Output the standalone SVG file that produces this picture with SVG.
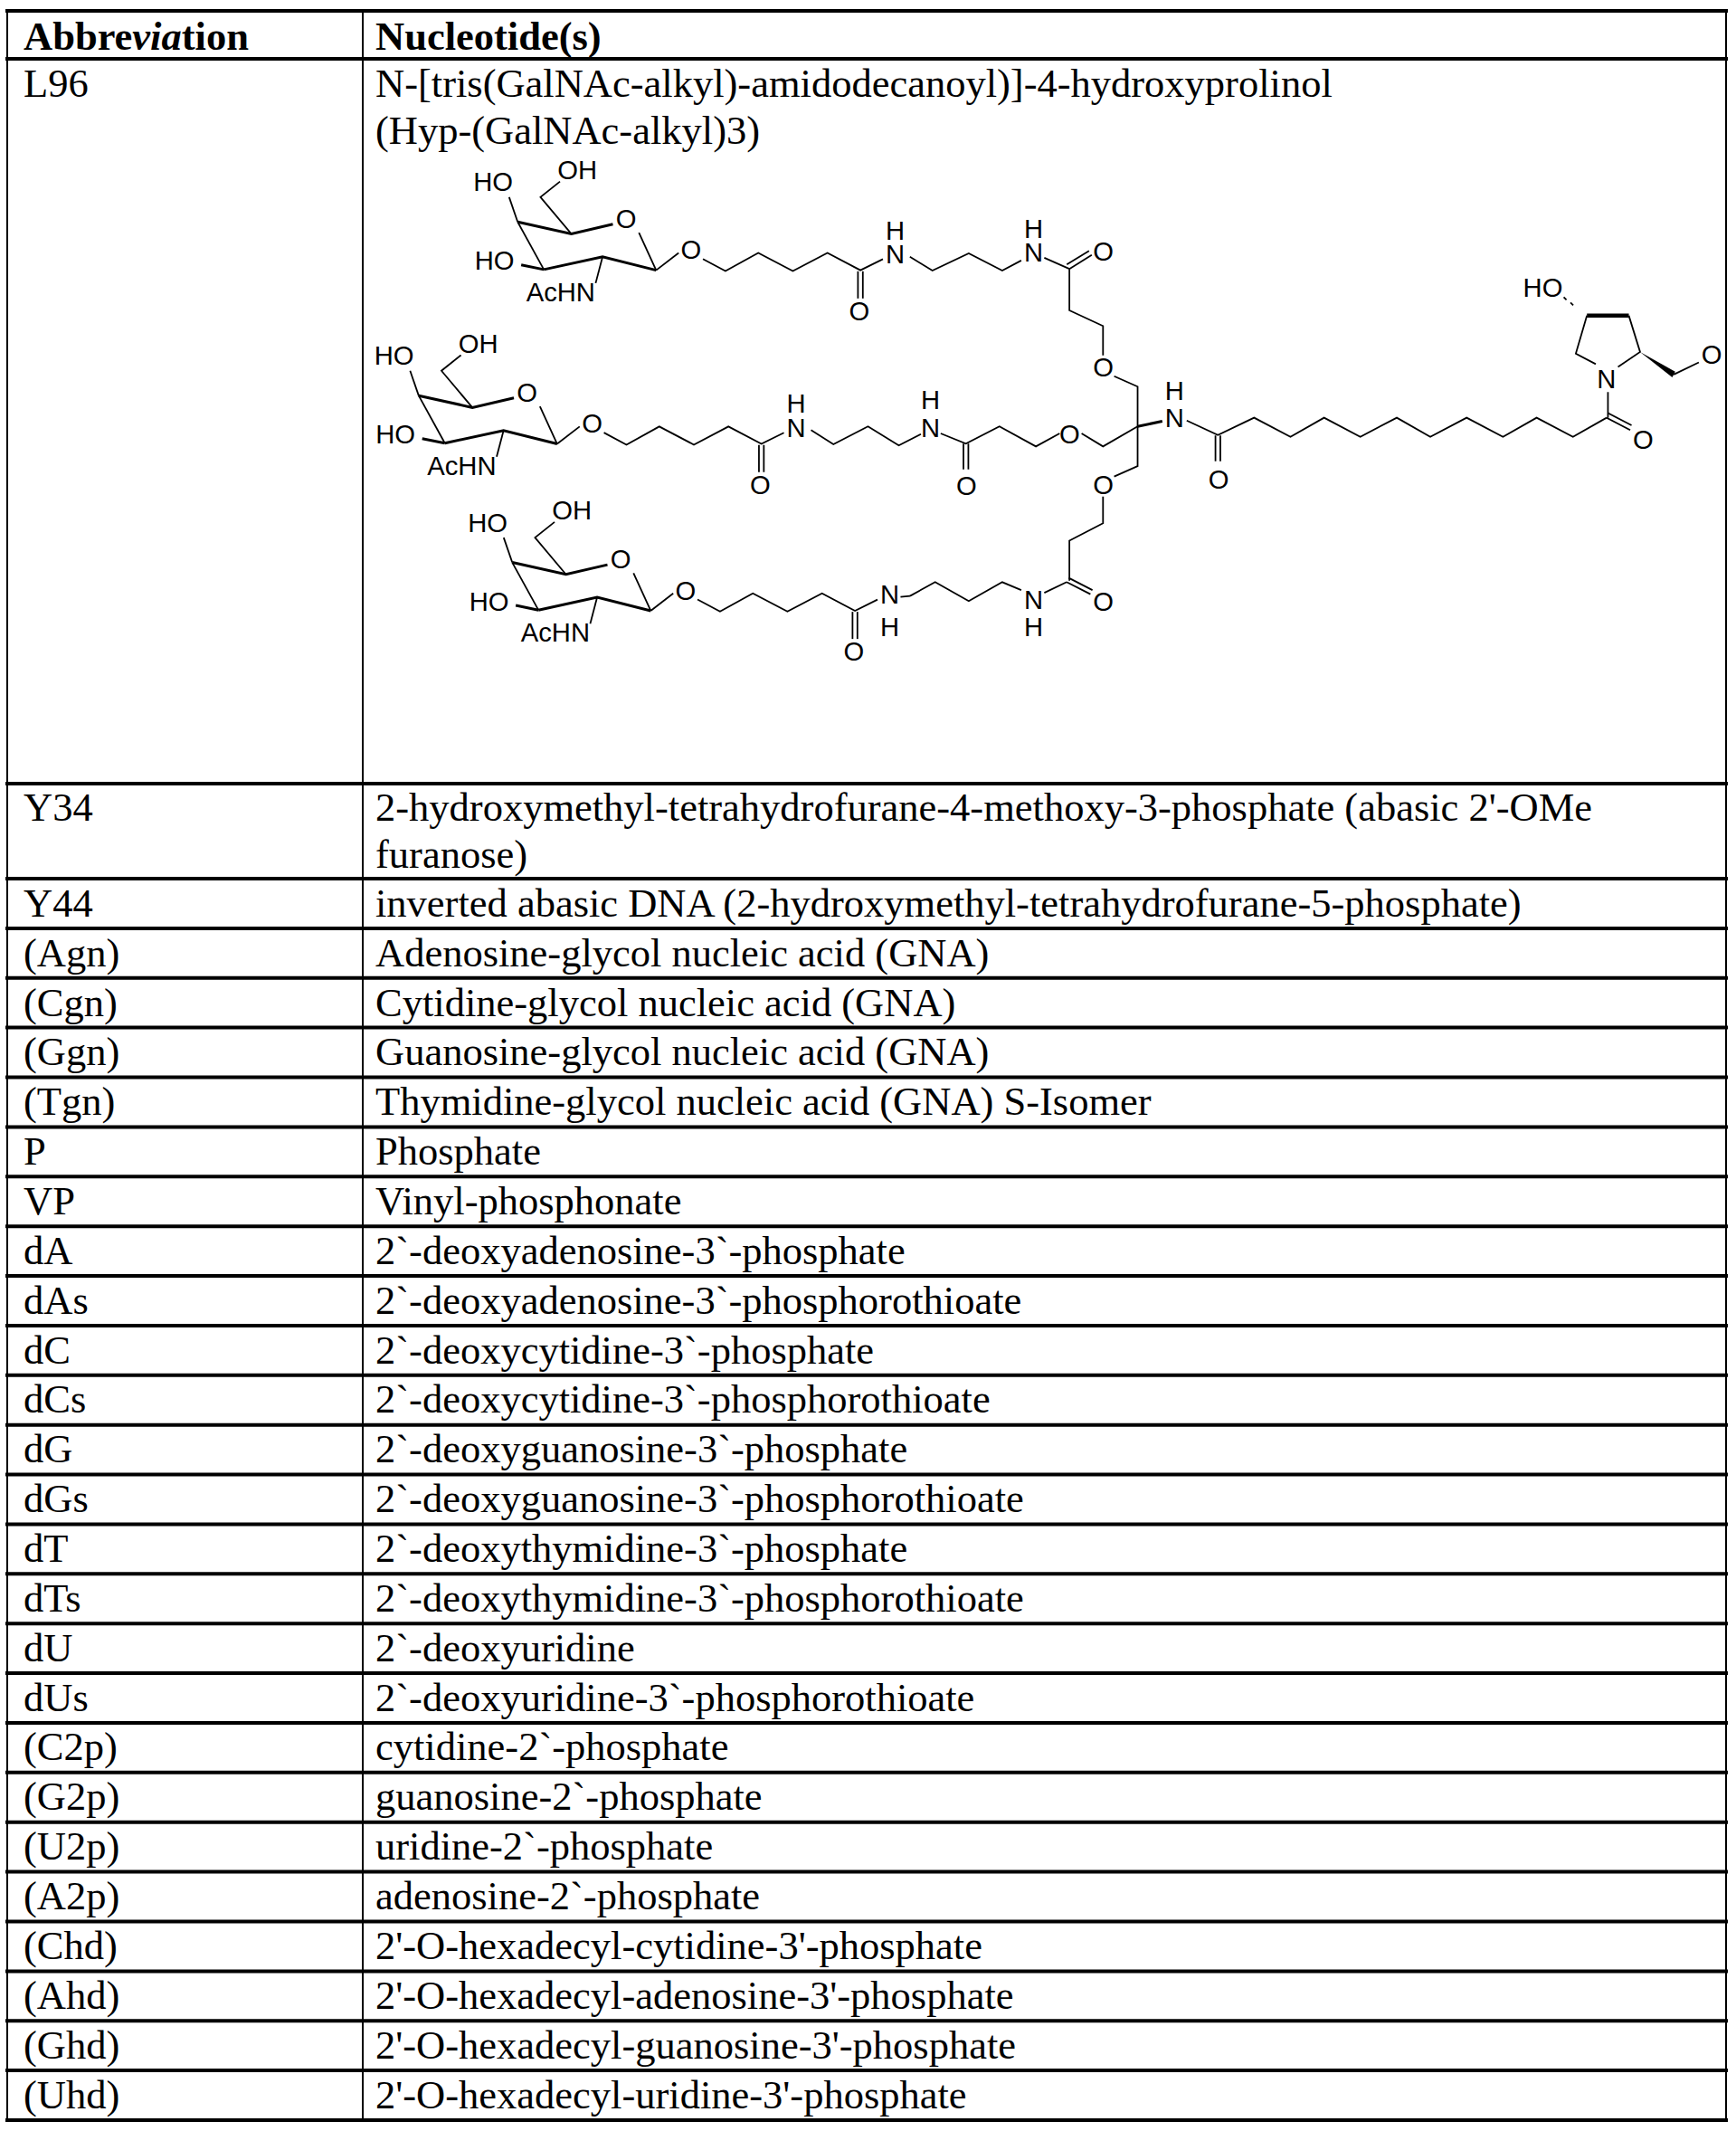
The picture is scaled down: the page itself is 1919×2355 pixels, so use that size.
<svg xmlns="http://www.w3.org/2000/svg" xmlns:xlink="http://www.w3.org/1999/xlink" width="1919" height="2355" viewBox="0 0 1919 2355">
<style>
.t{font-family:"Liberation Serif","Times New Roman",serif;font-size:44.5px;fill:#000}
.b{font-weight:bold}
.g{stroke:#000;stroke-width:4;fill:none}
.v{stroke:#000;stroke-width:2;fill:none}
.c{stroke:#000;stroke-width:1.2;fill:none;stroke-linejoin:miter}
.cb{stroke:#000;stroke-width:2;fill:none}
.a{font-family:"Liberation Sans",Arial,sans-serif;font-size:19.5px;fill:#000}
</style>
<defs>
<g id="unit">
<polyline class="c" points="302.4,273.3 308.7,291.6"/>
<polyline class="cb" points="308.7,291.6 348.3,300.4 378.9,293.3"/>
<polyline class="c" points="348.3,300.4 325.5,273.3 339.9,261.8"/>
<polyline class="c" points="398.1,299.5 410.8,327.2"/>
<polyline class="cb" points="410.8,327.2 371.3,317.3 328,326.7"/>
<polyline class="c" points="328,326.7 308.7,291.6"/>
<polyline class="cb" points="311.3,323.3 328,326.7"/>
<polyline class="c" points="371.3,317.3 366.2,336.7"/>
<polyline class="c" points="410.8,327.2 427.4,314.4"/>
<polyline class="c" points="445.3,318.9 461.9,327.8 486.1,314.4 511.6,327.8 537.1,314.4 561.4,327.2 578,319"/>
<line class="c" x1="559.6" y1="328" x2="559.6" y2="348"/>
<line class="c" x1="563.2" y1="328" x2="563.2" y2="348"/>
<text class="a" x="276" y="269">HO</text>
<text class="a" x="338" y="260">OH</text>
<text class="a" x="381" y="296">O</text>
<text class="a" x="277" y="327">HO</text>
<text class="a" x="315" y="350">AcHN</text>
<text class="a" x="429" y="319">O</text>
<text class="a" x="553" y="364">O</text>
<text class="a" x="580" y="322">N</text>
</g>
</defs>
<g id="table">
<line class="g" x1="6" y1="12" x2="1910" y2="12"/>
<line class="g" x1="6" y1="65" x2="1910" y2="65"/>
<line class="g" x1="6" y1="866" x2="1910" y2="866"/>
<line class="g" x1="6" y1="971" x2="1910" y2="971"/>
<line class="g" x1="6" y1="1025.9" x2="1910" y2="1025.9"/>
<line class="g" x1="6" y1="1080.8" x2="1910" y2="1080.8"/>
<line class="g" x1="6" y1="1135.6" x2="1910" y2="1135.6"/>
<line class="g" x1="6" y1="1190.5" x2="1910" y2="1190.5"/>
<line class="g" x1="6" y1="1245.4" x2="1910" y2="1245.4"/>
<line class="g" x1="6" y1="1300.3" x2="1910" y2="1300.3"/>
<line class="g" x1="6" y1="1355.2" x2="1910" y2="1355.2"/>
<line class="g" x1="6" y1="1410" x2="1910" y2="1410"/>
<line class="g" x1="6" y1="1464.9" x2="1910" y2="1464.9"/>
<line class="g" x1="6" y1="1519.8" x2="1910" y2="1519.8"/>
<line class="g" x1="6" y1="1574.7" x2="1910" y2="1574.7"/>
<line class="g" x1="6" y1="1629.6" x2="1910" y2="1629.6"/>
<line class="g" x1="6" y1="1684.4" x2="1910" y2="1684.4"/>
<line class="g" x1="6" y1="1739.3" x2="1910" y2="1739.3"/>
<line class="g" x1="6" y1="1794.2" x2="1910" y2="1794.2"/>
<line class="g" x1="6" y1="1849.1" x2="1910" y2="1849.1"/>
<line class="g" x1="6" y1="1904" x2="1910" y2="1904"/>
<line class="g" x1="6" y1="1958.8" x2="1910" y2="1958.8"/>
<line class="g" x1="6" y1="2013.7" x2="1910" y2="2013.7"/>
<line class="g" x1="6" y1="2068.6" x2="1910" y2="2068.6"/>
<line class="g" x1="6" y1="2123.5" x2="1910" y2="2123.5"/>
<line class="g" x1="6" y1="2178.4" x2="1910" y2="2178.4"/>
<line class="g" x1="6" y1="2233.2" x2="1910" y2="2233.2"/>
<line class="g" x1="6" y1="2288.1" x2="1910" y2="2288.1"/>
<line class="g" x1="6" y1="2343" x2="1910" y2="2343"/>
<line class="v" x1="8" y1="12" x2="8" y2="2343"/>
<line class="v" x1="401" y1="12" x2="401" y2="2343"/>
<line class="v" x1="1908" y1="12" x2="1908" y2="2343"/>
</g>
<g id="text">
<text class="t b" x="26" y="55">Abbre<tspan font-style="italic">via</tspan>tion</text>
<text class="t b" x="415" y="55">Nucleotide(s)</text>
<text class="t" x="26" y="107">L96</text>
<text class="t" x="415" y="107">N-[tris(GalNAc-alkyl)-amidodecanoyl)]-4-hydroxyprolinol</text>
<text class="t" x="415" y="159">(Hyp-(GalNAc-alkyl)3)</text>
<text class="t" x="26" y="907">Y34</text>
<text class="t" x="415" y="907">2-hydroxymethyl-tetrahydrofurane-4-methoxy-3-phosphate (abasic 2'-OMe</text>
<text class="t" x="415" y="959">furanose)</text>
<text class="t" x="26" y="1013">Y44</text>
<text class="t" x="415" y="1013">inverted abasic DNA (2-hydroxymethyl-tetrahydrofurane-5-phosphate)</text>
<text class="t" x="26" y="1068">(Agn)</text><text class="t" x="415" y="1068">Adenosine-glycol nucleic acid (GNA)</text>
<text class="t" x="26" y="1123">(Cgn)</text><text class="t" x="415" y="1123">Cytidine-glycol nucleic acid (GNA)</text>
<text class="t" x="26" y="1177">(Ggn)</text><text class="t" x="415" y="1177">Guanosine-glycol nucleic acid (GNA)</text>
<text class="t" x="26" y="1232">(Tgn)</text><text class="t" x="415" y="1232">Thymidine-glycol nucleic acid (GNA) S-Isomer</text>
<text class="t" x="26" y="1287">P</text><text class="t" x="415" y="1287">Phosphate</text>
<text class="t" x="26" y="1342">VP</text><text class="t" x="415" y="1342">Vinyl-phosphonate</text>
<text class="t" x="26" y="1397">dA</text><text class="t" x="415" y="1397">2`-deoxyadenosine-3`-phosphate</text>
<text class="t" x="26" y="1452">dAs</text><text class="t" x="415" y="1452">2`-deoxyadenosine-3`-phosphorothioate</text>
<text class="t" x="26" y="1507">dC</text><text class="t" x="415" y="1507">2`-deoxycytidine-3`-phosphate</text>
<text class="t" x="26" y="1561">dCs</text><text class="t" x="415" y="1561">2`-deoxycytidine-3`-phosphorothioate</text>
<text class="t" x="26" y="1616">dG</text><text class="t" x="415" y="1616">2`-deoxyguanosine-3`-phosphate</text>
<text class="t" x="26" y="1671">dGs</text><text class="t" x="415" y="1671">2`-deoxyguanosine-3`-phosphorothioate</text>
<text class="t" x="26" y="1726">dT</text><text class="t" x="415" y="1726">2`-deoxythymidine-3`-phosphate</text>
<text class="t" x="26" y="1781">dTs</text><text class="t" x="415" y="1781">2`-deoxythymidine-3`-phosphorothioate</text>
<text class="t" x="26" y="1836">dU</text><text class="t" x="415" y="1836">2`-deoxyuridine</text>
<text class="t" x="26" y="1891">dUs</text><text class="t" x="415" y="1891">2`-deoxyuridine-3`-phosphorothioate</text>
<text class="t" x="26" y="1945">(C2p)</text><text class="t" x="415" y="1945">cytidine-2`-phosphate</text>
<text class="t" x="26" y="2000">(G2p)</text><text class="t" x="415" y="2000">guanosine-2`-phosphate</text>
<text class="t" x="26" y="2055">(U2p)</text><text class="t" x="415" y="2055">uridine-2`-phosphate</text>
<text class="t" x="26" y="2110">(A2p)</text><text class="t" x="415" y="2110">adenosine-2`-phosphate</text>
<text class="t" x="26" y="2165">(Chd)</text><text class="t" x="415" y="2165">2'-O-hexadecyl-cytidine-3'-phosphate</text>
<text class="t" x="26" y="2220">(Ahd)</text><text class="t" x="415" y="2220">2'-O-hexadecyl-adenosine-3'-phosphate</text>
<text class="t" x="26" y="2275">(Ghd)</text><text class="t" x="415" y="2275">2'-O-hexadecyl-guanosine-3'-phosphate</text>
<text class="t" x="26" y="2330">(Uhd)</text><text class="t" x="415" y="2330">2'-O-hexadecyl-uridine-3'-phosphate</text>
</g>
<g id="structure" transform="scale(1.4992)">
<use xlink:href="#unit" href="#unit" transform="translate(73,-128)"/>
<use xlink:href="#unit"/>
<use xlink:href="#unit" transform="translate(69,123)"/>
<text class="a" x="653" y="176.5">H</text>
<text class="a" x="580" y="304">H</text>
<text class="a" x="649" y="469">H</text>
<line class="c" x1="664" y1="440" x2="671" y2="439.3"/>
<!-- top right -->
<polyline class="c" points="670.9,189.3 687.5,199.5 714.3,186.7 739,199.5 753,192"/>
<text class="a" x="755" y="193">N</text><text class="a" x="755" y="175.5">H</text>
<polyline class="c" points="770,190 788.5,198.2 788.5,228.8 813.3,240.3 813.3,262"/>
<line class="c" x1="788.5" y1="198.2" x2="805" y2="188"/><line class="c" x1="786.6" y1="195" x2="803" y2="185"/>
<text class="a" x="806" y="192">O</text>
<text class="a" x="806" y="277.3">O</text>
<polyline class="c" points="821.5,277.3 838.8,285 838.8,343.6 821.5,351.3"/>
<!-- middle right -->
<polyline class="c" points="598,317 614.5,327.5 640,314.3 662.7,328.3 679,320"/>
<text class="a" x="679" y="322">N</text><text class="a" x="679" y="301.5">H</text>
<polyline class="c" points="693.6,319.5 712.2,327 736.9,314.3 763.8,329.1 781.3,319.5"/>
<line class="c" x1="710.4" y1="327" x2="710.4" y2="346"/><line class="c" x1="714" y1="327" x2="714" y2="346"/>
<text class="a" x="705" y="365">O</text>
<text class="a" x="781" y="327">O</text>
<polyline class="c" points="797.5,319.5 813.3,329.1 838.8,314.3"/>
<!-- bottom right -->
<polyline class="c" points="671,439.3 689.5,429.1 714.3,443.1 739,429.1 753,435"/>
<text class="a" x="755" y="449">N</text><text class="a" x="755" y="469">H</text>
<polyline class="c" points="770,437 786.5,429.1"/>
<line class="c" x1="786.5" y1="429.1" x2="804" y2="438"/><line class="c" x1="788" y1="426" x2="805.5" y2="435"/>
<polyline class="c" points="788.5,428 788.5,398.5 813.3,385.7 813.3,366"/>
<text class="a" x="806" y="450">O</text>
<text class="a" x="806" y="364">O</text>
<!-- center -->
<line class="cb" x1="838.8" y1="314.3" x2="857" y2="310.5"/>
<text class="a" x="859" y="295">H</text><text class="a" x="859" y="315">N</text>
<polyline class="c" points="875,310 898,320.7 924.7,307.9 951.5,322 976.3,307.9 1003,322 1029.9,307.9 1054.6,322 1081.4,307.9 1108.2,322 1133,307.9 1159.8,322 1184.6,307.9"/>
<line class="c" x1="896.2" y1="321" x2="896.2" y2="340"/><line class="c" x1="899.8" y1="321" x2="899.8" y2="340"/>
<text class="a" x="891" y="360">O</text>
<line class="c" x1="1184.6" y1="307.9" x2="1202" y2="317"/><line class="c" x1="1185.4" y1="304.4" x2="1203" y2="313.5"/>
<text class="a" x="1204" y="331">O</text>
<line class="c" x1="1185.6" y1="307.9" x2="1185.6" y2="289"/>
<text class="a" x="1177.5" y="286">N</text>
<polyline class="c" points="1176.6,268.4 1161.9,260.7 1170.1,232.7"/>
<line x1="1170.1" y1="232.7" x2="1201" y2="232.7" stroke="#000" stroke-width="3"/>
<polyline class="c" points="1201,232.7 1209.3,259.4 1193,270.4"/>
<polygon points="1209.3,259.4 1235.2,274 1233,278.2" fill="#000"/>
<polyline class="c" points="1234.1,276.1 1252.6,267.1"/>
<text class="a" x="1254.5" y="268">O</text>
<text class="a" x="1123" y="219">HO</text>
<line class="c" x1="1153" y1="219" x2="1155" y2="221"/>
<line class="c" x1="1158" y1="223" x2="1160" y2="225"/>
</g>
</svg>
